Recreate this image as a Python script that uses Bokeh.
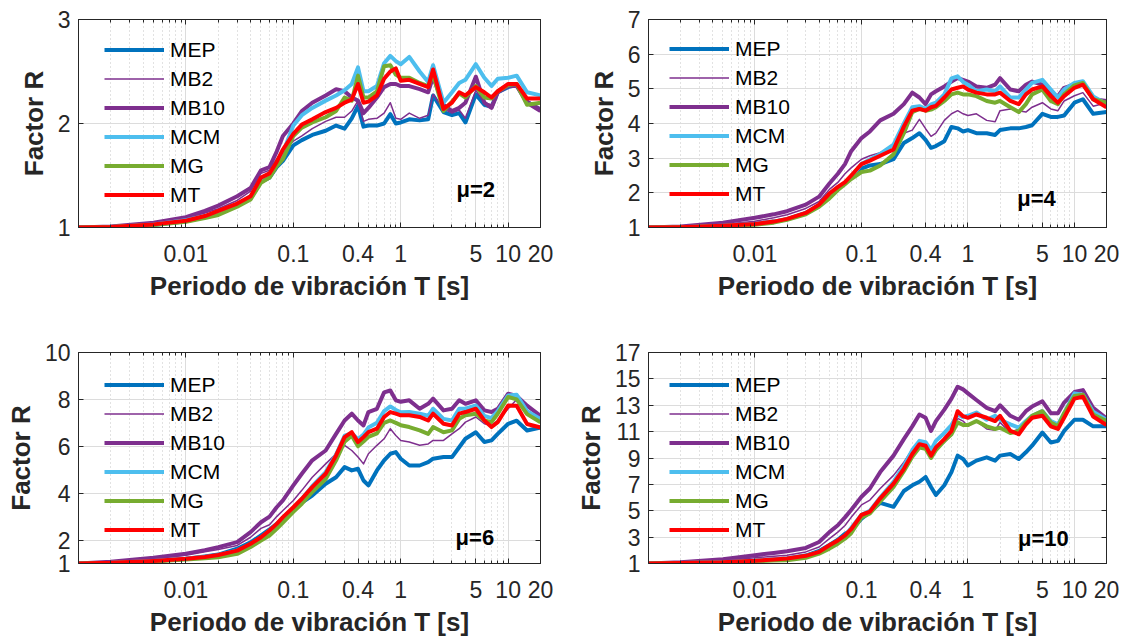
from bokeh.plotting import figure
from bokeh.models import (FixedTicker, CustomJSTickFormatter, LogAxis, LinearAxis,
                          Legend, LegendItem, Label, Range1d)
from bokeh.layouts import column, row
from bokeh.embed import file_html
from bokeh.resources import INLINE

FONT = "Liberation Sans"

# ---------------- data ----------------
periods = [0.001, 0.002, 0.005, 0.01, 0.015, 0.02, 0.03, 0.04, 0.05, 0.06,
           0.07, 0.08, 0.1, 0.12, 0.15, 0.2, 0.25, 0.3, 0.35, 0.4,
           0.45, 0.5, 0.6, 0.7, 0.8, 0.9, 1.0, 1.2, 1.5, 1.8,
           2.0, 2.5, 3.0, 3.5, 4.0, 5.0, 6.0, 7.0, 8.0, 10.0,
           12.0, 15.0, 20.0]

series_names = ["MEP", "MB2", "MB10", "MCM", "MG", "MT"]
series_colors = ["#0072BD", "#7E2F8E", "#7E2F8E", "#4DBEEE", "#77AC30", "#FF0000"]
series_widths = [4, 1.5, 4, 4, 4, 4]

x_tick_values = [0.01, 0.1, 0.4, 1, 5, 10, 20]
x_title = "Periodo de vibración T [s]"
y_title = "Factor R"

# mu = 2
mu2_MEP = [1.0, 1.004, 1.025, 1.06, 1.10, 1.13, 1.21, 1.28, 1.44, 1.48,
           1.58, 1.64, 1.79, 1.84, 1.89, 1.93, 1.98, 1.95, 2.05, 2.17,
           1.97, 1.98, 1.98, 2.0, 2.09, 2.0, 2.01, 2.04, 2.03, 2.04,
           2.27, 2.11, 2.08, 2.10, 2.01, 2.28, 2.18, 2.16, 2.30, 2.35,
           2.37, 2.21, 2.13]
mu2_MB2 = [1.0, 1.008, 1.035, 1.085, 1.14, 1.18, 1.26, 1.35, 1.52, 1.55,
           1.66, 1.74, 1.83, 1.88, 1.95, 2.02, 2.06, 2.06, 2.12, 2.22,
           2.02, 2.04, 2.05, 2.1, 2.2, 2.05, 2.04, 2.10, 2.05, 2.08,
           2.28, 2.14, 2.10, 2.13, 2.05, 2.32, 2.20, 2.18, 2.32, 2.36,
           2.37, 2.22, 2.15]
mu2_MB10 = [1.0, 1.01, 1.045, 1.10, 1.16, 1.21, 1.30, 1.38, 1.55, 1.58,
            1.73, 1.88, 2.0, 2.12, 2.2, 2.27, 2.33, 2.31, 2.25, 2.22,
            2.1, 2.15, 2.25, 2.35, 2.38, 2.38, 2.36, 2.36, 2.33, 2.30,
            2.45, 2.18, 2.12, 2.15, 2.2, 2.45, 2.2, 2.15, 2.3, 2.36,
            2.36, 2.2, 2.12]
mu2_MCM = [1.0, 1.005, 1.03, 1.07, 1.11, 1.15, 1.22, 1.30, 1.46, 1.52,
           1.62, 1.72, 1.98, 2.08, 2.15, 2.22, 2.27, 2.32, 2.38, 2.54,
           2.31, 2.31, 2.36, 2.58, 2.65, 2.6, 2.57, 2.64, 2.5, 2.40,
           2.56, 2.20, 2.30, 2.39, 2.42, 2.57, 2.44, 2.36, 2.43, 2.44,
           2.46, 2.30, 2.27]
mu2_MG = [1.0, 1.004, 1.025, 1.055, 1.09, 1.12, 1.20, 1.27, 1.43, 1.48,
          1.59, 1.66, 1.88, 1.96, 2.01, 2.06, 2.12, 2.25, 2.22, 2.46,
          2.25, 2.25, 2.31, 2.55, 2.56, 2.47, 2.44, 2.44, 2.39, 2.36,
          2.47, 2.12, 2.21, 2.29, 2.25, 2.36, 2.25, 2.24, 2.31, 2.37,
          2.38, 2.18, 2.20]
mu2_MT = [1.0, 1.005, 1.03, 1.065, 1.11, 1.16, 1.23, 1.30, 1.48, 1.52,
          1.63, 1.75, 1.9, 1.99, 2.04, 2.11, 2.15, 2.2, 2.23, 2.38,
          2.2, 2.21, 2.27, 2.43, 2.5, 2.53, 2.41, 2.42, 2.38, 2.35,
          2.52, 2.14, 2.20, 2.30, 2.27, 2.35, 2.30, 2.25, 2.31, 2.38,
          2.38, 2.24, 2.24]

# mu = 4
mu4_MEP = [1.0, 1.01, 1.05, 1.1, 1.17, 1.24, 1.42, 1.65, 1.98, 2.12,
           2.28, 2.45, 2.7, 2.79, 2.83, 2.97, 3.44, 3.58, 3.72, 3.53,
           3.30, 3.35, 3.49, 3.9, 3.86, 3.77, 3.81, 3.72, 3.72, 3.67,
           3.81, 3.86, 3.86, 3.9, 3.95, 4.28, 4.19, 4.19, 4.23, 4.6,
           4.7, 4.28, 4.33]
mu4_MB2 = [1.0, 1.02, 1.09, 1.18, 1.28, 1.37, 1.55, 1.75, 2.1, 2.3,
           2.55, 2.72, 2.97, 3.07, 3.16, 3.35, 3.72, 3.81, 4.12, 3.85,
           3.63, 3.72, 4.09, 4.28, 4.37, 4.28, 4.23, 4.28, 4.09, 4.05,
           4.37, 4.42, 4.37, 4.33, 4.47, 4.6, 4.42, 4.37, 4.65, 4.8,
           4.89, 4.5, 4.6]
mu4_MB10 = [1.0, 1.03, 1.14, 1.28, 1.38, 1.47, 1.66, 1.89, 2.27, 2.55,
            2.83, 3.2, 3.58, 3.77, 4.09, 4.28, 4.56, 4.89, 4.75, 4.56,
            4.84, 4.93, 5.07, 5.21, 5.31, 5.26, 5.21, 5.07, 5.03, 5.12,
            5.31, 4.98, 4.93, 5.12, 5.21, 5.12, 4.84, 4.79, 5.03, 5.12,
            5.17, 4.7, 4.65]
mu4_MCM = [1.0, 1.01, 1.05, 1.1, 1.17, 1.24, 1.4, 1.62, 1.95, 2.12,
           2.28, 2.45, 2.83, 2.96, 3.12, 3.39, 4.0, 4.47, 4.5, 4.42,
           4.55, 4.6, 4.84, 5.3, 5.36, 5.2, 5.12, 4.93, 4.98, 4.93,
           5.07, 4.75, 4.75, 4.98, 5.17, 5.26, 4.98, 4.75, 4.98, 5.17,
           5.22, 4.78, 4.56]
mu4_MG = [1.0, 1.01, 1.04, 1.08, 1.14, 1.22, 1.38, 1.6, 1.84, 2.08,
          2.25, 2.4, 2.6, 2.64, 2.79, 3.11, 3.72, 4.33, 4.42, 4.37,
          4.4, 4.47, 4.65, 4.84, 4.89, 4.84, 4.84, 4.79, 4.65, 4.6,
          4.65, 4.47, 4.33, 4.56, 4.84, 4.98, 4.65, 4.56, 4.84, 5.1,
          5.17, 4.7, 4.6]
mu4_MT = [1.0, 1.01, 1.05, 1.1, 1.17, 1.25, 1.42, 1.66, 1.98, 2.17,
          2.31, 2.5, 2.83, 2.93, 3.07, 3.25, 3.91, 4.37, 4.42, 4.37,
          4.47, 4.51, 4.75, 4.98, 5.03, 5.07, 4.98, 4.89, 4.84, 4.84,
          4.89, 4.65, 4.56, 4.84, 4.98, 5.07, 4.79, 4.6, 4.79, 5.03,
          5.12, 4.7, 4.47]

# mu = 6
mu6_MEP = [1.0, 1.03, 1.11, 1.2, 1.3, 1.38, 1.63, 1.9, 2.2, 2.45,
           2.69, 2.85, 3.3, 3.6, 3.9, 4.4, 4.68, 5.11, 4.97, 5.04,
           4.54, 4.33, 4.97, 5.4, 5.68, 5.75, 5.47, 5.18, 5.18, 5.32,
           5.47, 5.54, 5.54, 5.96, 6.32, 6.6, 6.18, 6.25, 6.53, 6.96,
           7.09, 6.67, 6.8]
mu6_MB2 = [1.0, 1.06, 1.2, 1.35, 1.5, 1.6, 1.77, 2.12, 2.5, 2.65,
           3.0, 3.26, 3.69, 4.12, 4.68, 5.25, 5.68, 6.04, 5.82, 5.54,
           5.25, 5.68, 6.04, 6.32, 6.75, 6.46, 6.25, 6.18, 6.04, 6.1,
           6.25, 6.25, 6.53, 6.75, 7.03, 7.25, 6.96, 6.89, 7.1, 7.6,
           8.0, 7.45, 7.23]
mu6_MB10 = [1.0, 1.08, 1.25, 1.42, 1.57, 1.70, 1.91, 2.34, 2.76, 3.0,
            3.4, 3.69, 4.33, 4.83, 5.4, 5.82, 6.53, 7.1, 7.39, 7.1,
            6.89, 7.46, 7.6, 8.3, 8.38, 7.96, 7.9, 7.96, 7.6, 7.81,
            8.03, 7.53, 7.6, 7.96, 7.81, 7.96, 7.53, 7.46, 7.6, 8.24,
            8.15, 7.73, 7.3]
mu6_MCM = [1.0, 1.03, 1.11, 1.2, 1.28, 1.35, 1.55, 1.82, 2.1, 2.4,
           2.68, 2.95, 3.35, 3.75, 4.3, 4.9, 5.65, 6.45, 6.55, 6.3,
           6.5, 6.8, 7.0, 7.5, 7.7, 7.55, 7.45, 7.46, 7.39, 7.3,
           7.6, 7.17, 7.1, 7.6, 7.6, 7.74, 7.3, 7.2, 7.5, 8.17,
           8.2, 7.5, 7.16]
mu6_MG = [1.0, 1.02, 1.08, 1.17, 1.22, 1.27, 1.41, 1.70, 1.98, 2.19,
          2.48, 2.75, 3.2, 3.55, 4.05, 4.6, 5.4, 6.2, 6.45, 6.0,
          6.2, 6.4, 6.55, 7.0, 7.1, 7.0, 6.9, 6.82, 6.68, 6.53,
          6.82, 6.6, 6.68, 7.17, 7.32, 7.39, 7.1, 7.03, 7.39, 8.1,
          8.0, 7.37, 7.02]
mu6_MT = [1.0, 1.03, 1.11, 1.2, 1.28, 1.36, 1.55, 1.84, 2.12, 2.41,
          2.69, 2.98, 3.4, 3.76, 4.26, 4.83, 5.61, 6.39, 6.6, 6.18,
          6.39, 6.6, 6.75, 7.25, 7.46, 7.39, 7.32, 7.32, 7.25, 7.1,
          7.39, 6.96, 6.89, 7.39, 7.46, 7.6, 7.1, 6.82, 7.03, 7.74,
          7.73, 6.95, 6.8]

# mu = 10
mu10_MEP = [1.0, 1.04, 1.1, 1.2, 1.3, 1.38, 1.6, 1.95, 2.4, 2.8,
            3.26, 3.5, 4.4, 4.9, 5.6, 5.3, 6.5, 6.93, 7.2, 7.56,
            6.8, 6.19, 6.93, 7.93, 9.18, 8.93, 8.43, 8.8, 9.05, 8.8,
            9.18, 9.3, 8.93, 9.43, 9.93, 10.93, 10.18, 10.3, 11.05, 11.9,
            11.9, 11.4, 11.4]
mu10_MB2 = [1.0, 1.06, 1.2, 1.43, 1.55, 1.63, 1.88, 2.25, 2.88, 3.38,
            3.88, 4.5, 5.44, 5.81, 6.69, 7.68, 8.68, 9.68, 10.18, 9.68,
            9.05, 9.68, 10.18, 10.7, 12.0, 11.8, 11.4, 11.8, 11.2, 11.1,
            11.7, 10.9, 11.2, 11.7, 11.95, 12.45, 11.6, 11.5, 12.35, 13.9,
            13.7, 12.5, 11.9]
mu10_MB10 = [1.0, 1.1, 1.33, 1.63, 1.8, 1.93, 2.18, 2.63, 3.38, 3.9,
             4.5, 5.06, 6.06, 6.69, 7.93, 9.18, 10.43, 11.4, 12.3, 12.05,
             11.05, 11.8, 12.67, 13.5, 14.4, 14.2, 13.9, 13.4, 12.8, 12.55,
             13.0, 12.2, 11.9, 12.55, 12.9, 13.3, 12.4, 12.4, 13.2, 14.0,
             14.15, 12.8, 12.0]
mu10_MCM = [1.0, 1.04, 1.1, 1.2, 1.3, 1.38, 1.56, 1.85, 2.33, 2.7,
            3.1, 3.7, 4.7, 5.0, 6.0, 7.2, 8.4, 9.6, 10.3, 10.2,
            9.6, 10.3, 10.9, 11.5, 12.3, 12.1, 12.2, 12.45, 11.9, 12.2,
            11.9, 11.55, 11.3, 11.8, 12.2, 12.55, 11.8, 11.55, 12.4, 13.9,
            13.8, 12.5, 11.9]
mu10_MG = [1.0, 1.03, 1.08, 1.18, 1.22, 1.25, 1.43, 1.75, 2.13, 2.5,
           2.88, 3.3, 4.5, 4.8, 5.7, 6.8, 8.0, 9.1, 9.8, 9.7,
           9.0, 9.6, 10.3, 10.8, 11.7, 11.5, 11.5, 11.8, 11.4, 11.2,
           11.3, 10.9, 11.05, 11.7, 12.2, 12.55, 11.7, 11.4, 12.4, 13.7,
           13.8, 12.3, 11.8]
mu10_MT = [1.0, 1.04, 1.1, 1.2, 1.3, 1.38, 1.58, 1.88, 2.38, 2.75,
           3.13, 3.6, 4.69, 4.94, 5.94, 7.06, 8.18, 9.3, 10.05, 9.93,
           9.18, 9.8, 10.43, 11.05, 12.55, 12.17, 12.05, 12.3, 12.05, 11.8,
           12.2, 11.05, 10.8, 11.55, 12.05, 12.2, 11.4, 11.2, 12.05, 13.5,
           13.65, 12.15, 11.5]

mu2_yticks = [1, 2, 3]
mu4_yticks = [1, 2, 3, 4, 5, 6, 7]
mu6_yticks = [1, 2, 4, 6, 8, 10]
mu10_yticks = [1, 3, 5, 7, 9, 11, 13, 15, 17]

panels = [
    dict(data=[mu2_MEP, mu2_MB2, mu2_MB10, mu2_MCM, mu2_MG, mu2_MT],
         ylim=(1, 3), yticks=mu2_yticks, mu="\u03bc=2", mu_pos=(5.0, 1.37),
         w=560, h=320, bl=78, br=20, bt=17, bb=93, leg=(26, 20)),
    dict(data=[mu4_MEP, mu4_MB2, mu4_MB10, mu4_MCM, mu4_MG, mu4_MT],
         ylim=(1, 7), yticks=mu4_yticks, mu="\u03bc=4", mu_pos=(4.4, 1.85),
         w=566, h=320, bl=88, br=20, bt=19, bb=88, leg=(21, 21)),
    dict(data=[mu6_MEP, mu6_MB2, mu6_MB10, mu6_MCM, mu6_MG, mu6_MT],
         ylim=(1, 10), yticks=mu6_yticks, mu="\u03bc=6", mu_pos=(4.9, 2.1),
         w=560, h=319, bl=78, br=20, bt=31, bb=75, leg=(26, 21)),
    dict(data=[mu10_MEP, mu10_MB2, mu10_MB10, mu10_MCM, mu10_MG, mu10_MT],
         ylim=(1, 17), yticks=mu10_yticks, mu="\u03bc=10", mu_pos=(5.1, 2.88),
         w=566, h=319, bl=88, br=20, bt=32, bb=74, leg=(21, 21)),
]

AX = "#262626"
x_minor = [k * d for d in (0.001, 0.01, 0.1, 1, 10) for k in range(2, 10) if k * d < 20]


def make_panel(cfg):
    p = figure(width=cfg["w"], height=cfg["h"], x_axis_type="log",
               x_range=Range1d(0.001, 20), y_range=Range1d(*cfg["ylim"]),
               output_backend="svg", toolbar_location=None,
               min_border_left=cfg["bl"], min_border_right=cfg["br"],
               min_border_top=cfg["bt"], min_border_bottom=cfg["bb"])
    p.background_fill_color = "white"
    p.border_fill_color = "white"
    p.outline_line_color = AX
    p.outline_line_width = 1

    xt = FixedTicker(ticks=x_tick_values, minor_ticks=x_minor)
    yt = FixedTicker(ticks=cfg["yticks"])
    fmt = CustomJSTickFormatter(code="return String(tick)")

    xa = p.below[0]
    xa.ticker = xt
    xa.formatter = fmt
    xa.axis_label = x_title
    ya = p.left[0]
    ya.ticker = yt
    ya.axis_label = y_title
    for ax in (xa, ya):
        ax.axis_line_color = AX
        ax.major_tick_line_color = AX
        ax.minor_tick_line_color = AX
        ax.major_tick_in = 5
        ax.major_tick_out = 0
        ax.minor_tick_in = 3
        ax.minor_tick_out = 0
        ax.major_label_text_font = FONT
        ax.major_label_text_font_size = "23px"
        ax.major_label_text_color = AX
        ax.axis_label_text_font = FONT
        ax.axis_label_text_font_style = "bold"
        ax.axis_label_text_font_size = "26px"
        ax.axis_label_text_color = AX
    ya.minor_tick_in = 0
    xa.major_label_standoff = 17
    xa.axis_label_standoff = 6
    ya.major_label_standoff = 8
    ya.axis_label_standoff = 6

    p.xgrid[0].ticker = xt
    p.ygrid[0].ticker = yt
    p.xgrid.grid_line_color = "#dcdcdc"
    p.ygrid.grid_line_color = "#dcdcdc"
    p.xgrid.minor_grid_line_color = "#c4c4c4"
    p.xgrid.minor_grid_line_dash = "1 3"

    # box ticks on top and right
    top = LogAxis(ticker=xt, formatter=CustomJSTickFormatter(code="return ''"),
                  major_label_text_font_size="0px", major_label_standoff=0,
                  axis_line_color=AX, major_tick_line_color=AX, minor_tick_line_color=AX,
                  major_tick_in=5, major_tick_out=0, minor_tick_in=3, minor_tick_out=0)
    right = LinearAxis(ticker=yt, formatter=CustomJSTickFormatter(code="return ''"),
                       major_label_text_font_size="0px", major_label_standoff=0,
                       axis_line_color=AX, major_tick_line_color=AX,
                       major_tick_in=5, major_tick_out=0, minor_tick_in=0, minor_tick_out=0)
    p.add_layout(top, "above")
    p.add_layout(right, "right")

    items = []
    for name, color, lw, ys in zip(series_names, series_colors, series_widths, cfg["data"]):
        r = p.line(periods, ys, line_color=color, line_width=lw, line_join="round")
        items.append(LegendItem(label=name, renderers=[r]))

    leg = Legend(items=items, location=cfg["leg"], orientation="vertical",
                 padding=0, margin=0, spacing=4,
                 glyph_width=60, glyph_height=25, label_height=25, label_standoff=6,
                 label_text_font=FONT, label_text_font_size="21px",
                 label_text_color="#000000", label_text_baseline="middle",
                 background_fill_alpha=0, border_line_alpha=0)
    p.add_layout(leg)

    p.add_layout(Label(x=cfg["mu_pos"][0], y=cfg["mu_pos"][1], text=cfg["mu"],
                       text_font=FONT, text_font_style="bold", text_font_size="22px",
                       text_color="#000000", text_align="center", text_baseline="middle"))
    return p


figs = [make_panel(c) for c in panels]
layout = column(row(figs[0], figs[1]), row(figs[2], figs[3]))
open("out.html", "w").write(file_html(layout, INLINE))
